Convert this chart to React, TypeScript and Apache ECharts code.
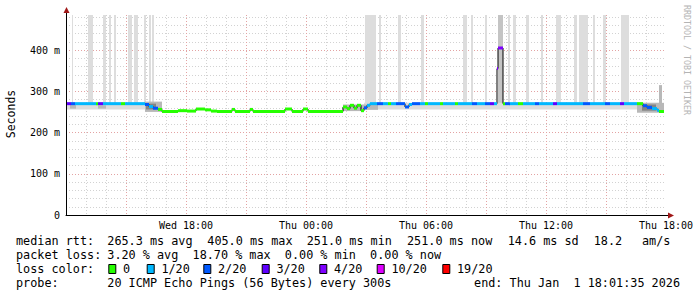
import React, { useEffect, useRef } from 'react';
import * as echarts from 'echarts';

// ---------- data (hours since Wed 12:00) ----------
const xTickHours = [6, 12, 18, 24, 30];
const xTickLabels = ['Wed 18:00', 'Thu 00:00', 'Thu 06:00', 'Thu 12:00', 'Thu 18:00'];
const yMax = 485;

const lossLabels = ['0', '1/20', '2/20', '3/20', '4/20', '10/20', '19/20'];
const lossColors = ['#26ff00', '#00b8ff', '#0059ff', '#5e00ff', '#7e00ff', '#dd00ff', '#ff0000'];

// median rtt steps: start hour, median (ms), loss class index
const stepStart = [
  0.05, 0.25, 0.45, 1.5, 1.6, 1.85, 2.75, 2.95, 3.95, 4.15, 4.35, 4.6, 4.8,
  5.6, 6.05, 6.5, 6.95, 7.25, 7.55, 8.3, 8.45, 9.2, 9.35, 10.95, 11.3, 11.85, 12.1,
  13.85, 14.05, 14.2, 14.4, 14.55, 14.75, 14.9, 15.05, 15.2, 15.55, 15.85, 16.1, 16.25,
  16.5, 16.95, 17.15, 17.3, 17.7, 17.95, 18.1, 18.7, 18.85, 19.45, 19.6, 20.3, 20.55,
  20.95, 21.2, 21.4, 21.55, 21.6, 21.85, 21.95, 22.2, 22.6, 22.85, 23.45, 23.65, 24.35,
  24.55, 25.85, 26.2, 26.95, 27.2, 27.7, 27.9, 28.55, 28.85, 29.05, 29.3, 29.55, 29.65,
];
const stepMedian = [
  270, 270, 270, 270, 270, 270, 270, 270, 268, 263, 259, 256, 251,
  253, 252, 257, 255, 252, 251, 256, 251, 256, 251, 257, 251, 257, 251,
  262, 258, 266, 259, 266, 253, 260, 266, 270, 270, 270, 270, 270,
  270, 262, 268, 270, 270, 270, 270, 270, 270, 270, 270, 270, 270,
  270, 270, 270, 355, 405, 270, 270, 270, 270, 270, 270, 270, 270,
  270, 270, 270, 270, 270, 270, 270, 270, 265, 261, 258, 254, 251,
];
const stepLoss = [
  3, 2, 1, 0, 3, 1, 0, 1, 2, 1, 2, 0, 0,
  0, 0, 0, 0, 0, 0, 0, 0, 0, 0, 0, 0, 0, 0,
  0, 0, 0, 0, 0, 0, 2, 1, 1, 2, 1, 0, 1,
  2, 2, 1, 2, 1, 0, 1, 0, 1, 0, 1, 2, 1,
  2, 3, 1, 4, 4, 0, 2, 1, 0, 1, 2, 1, 3,
  1, 2, 1, 2, 1, 3, 1, 0, 2, 2, 1, 1, 0,
];
const lastHour = 29.9;

// smoke reaching beyond the top of the graph: [start, end]
const tallSmokeStart = [0.3, 1.1, 1.85, 2.15, 2.4, 3.1, 3.4, 3.9, 4.15, 4.3, 14.95, 15.65, 16.6, 17.75, 19.85, 20.25, 20.95, 21.6, 22.1, 22.35, 23.0, 23.75, 24.5, 25.4, 25.65, 26.35, 26.85, 27.75];
const tallSmokeEnd = [0.35, 1.35, 2.0, 2.25, 2.5, 3.3, 3.6, 4.0, 4.25, 4.4, 15.5, 15.75, 16.75, 17.9, 20.05, 20.35, 21.05, 21.85, 22.2, 22.5, 23.15, 23.85, 24.75, 25.55, 26.1, 26.45, 27.0, 28.15];
const tallSmokeLow = [262, 262, 262, 262, 262, 262, 262, 262, 262, 262, 262, 262, 262, 262, 262, 262, 262, 266, 262, 262, 262, 262, 262, 262, 262, 262, 262, 262];
const tallSmokeDensity = [0, 0, 0, 0, 0, 0, 0, 0, 0, 0, 0, 0, 0, 0, 0, 0, 0, 1, 0, 0, 0, 0, 0, 0, 0, 0, 0, 0];

// smoke band around the median: [start, end, low, high, density]
const smokeStart = [0.05, 0.2, 1.6, 3.95, 4.0, 13.85, 14.9, 14.9, 28.55, 28.8, 29.65];
const smokeEnd = [3.95, 0.5, 2.0, 4.8, 4.5, 14.9, 29.65, 15.6, 29.9, 29.5, 29.8];
const smokeLow = [256, 258, 258, 250, 256, 252, 256, 255, 248, 253, 270];
const smokeHigh = [272, 268, 266, 275, 270, 268, 272, 268, 272, 268, 315];
const smokeDensity = [0, 1, 1, 1, 2, 1, 0, 1, 1, 2, 1];

const medianStats = ['265.3 ms avg', '405.0 ms max', '251.0 ms min', '251.0 ms now', '14.6 ms sd', '18.2', 'am/s'];
const lossStats = '3.20 % avg  18.70 % max  0.00 % min  0.00 % now';
const probeText = '20 ICMP Echo Pings (56 Bytes) every 300s';
const endText = 'end: Thu Jan  1 18:01:35 2026';

// ---------- layout ----------
const MONO = '"DejaVu Sans Mono", monospace';
const smokeShades = ['#dcdcdc', '#b8b8b8', '#848484'];
const medianStatX = [107.3, 207.3, 306.7, 407, 507.7, 593.7, 642];
const swatchX = [108.3, 146.7, 203.3, 261.7, 319.3, 376.7, 442.3];
const rowY = [241, 255, 269, 283];

function buildOption() {
  const segs = stepStart.map((s, i) => [s, i + 1 < stepStart.length ? stepStart[i + 1] : lastHour, stepMedian[i], stepLoss[i]]);
  const lineData = stepStart.map((s, i) => [s, stepMedian[i]]);
  lineData.push([lastHour, stepMedian[stepMedian.length - 1]]);
  const tall = tallSmokeStart.map((s, i) => [s, tallSmokeEnd[i], tallSmokeLow[i], yMax, tallSmokeDensity[i]]);
  const bands = smokeStart.map((s, i) => [s, smokeEnd[i], smokeLow[i], smokeHigh[i], smokeDensity[i]]);

  const rectItem = (fillFn: (d: number) => string) => (params: any, api: any) => {
    const p0 = api.coord([api.value(0), api.value(3)]);
    const p1 = api.coord([api.value(1), api.value(2)]);
    return {
      type: 'rect',
      shape: { x: p0[0], y: p0[1], width: Math.max(1, p1[0] - p0[0]), height: p1[1] - p0[1] },
      style: { fill: fillFn(api.value(4)) },
    };
  };

  const txt = (text: string, x: number, y: number, extra: any = {}) => ({
    type: 'text', x, y, silent: true,
    style: { text, font: `11.8px ${MONO}`, fill: '#000', textAlign: 'left', textVerticalAlign: 'middle', ...extra },
  });

  const graphics: any[] = [
    // axis extensions & arrows
    { type: 'line', shape: { x1: 66.5, y1: 15, x2: 66.5, y2: 11 }, style: { stroke: '#000', lineWidth: 1 } },
    { type: 'polygon', shape: { points: [[63.5, 13], [69.5, 13], [66.5, 7]] }, style: { fill: '#a01818' } },
    { type: 'line', shape: { x1: 666, y1: 215.5, x2: 669, y2: 215.5 }, style: { stroke: '#000', lineWidth: 1 } },
    { type: 'polygon', shape: { points: [[668, 212.5], [668, 218.5], [674, 215.5]] }, style: { fill: '#a01818' } },
    // titles
    {
      type: 'text', x: 11, y: 114, rotation: Math.PI / 2, silent: true,
      style: { text: 'Seconds', font: `11.5px ${MONO}`, fill: '#000', textAlign: 'center', textVerticalAlign: 'middle' },
    },
    {
      type: 'text', x: 687, y: 60, rotation: -Math.PI / 2, silent: true,
      style: { text: 'RRDTOOL / TOBI OETIKER', font: `8.3px ${MONO}`, fill: '#b4b4b4', textAlign: 'center', textVerticalAlign: 'middle' },
    },
    txt('median rtt:', 16, rowY[0]),
    ...medianStats.map((s, i) => txt(s, medianStatX[i], rowY[0])),
    txt('packet loss:', 16, rowY[1]),
    txt(lossStats, 107.3, rowY[1]),
    txt('loss color:', 16, rowY[2]),
    ...lossLabels.flatMap((l, i) => [
      { type: 'rect', shape: { x: swatchX[i] + 0.5, y: 264.5, width: 7, height: 9 }, style: { fill: lossColors[i], stroke: '#000', lineWidth: 1 } },
      txt(l, swatchX[i] + 14.7, rowY[2]),
    ]),
    txt('probe:', 16, rowY[3]),
    txt(probeText, 107.3, rowY[3]),
    txt(endText, 680, rowY[3], { textAlign: 'right' }),
  ];

  return {
    animation: false,
    backgroundColor: '#ffffff',
    grid: { left: 66, top: 15, width: 600, height: 200, containLabel: false, outerBoundsMode: 'none' },
    xAxis: {
      type: 'value', min: 0, max: 30, interval: 1,
      axisLine: { show: true, onZero: false, lineStyle: { color: '#000', width: 1 } },
      axisTick: { show: false },
      axisLabel: {
        show: true, margin: 5, color: '#000', fontFamily: MONO, fontSize: 10,
        showMinLabel: true, showMaxLabel: true, hideOverlap: false,
        formatter: (v: number) => {
          const k = xTickHours.indexOf(Math.round(v));
          return Math.abs(v - Math.round(v)) < 1e-6 && k >= 0 ? xTickLabels[k] : '';
        },
      },
      splitLine: { show: true, showMaxLine: false, lineStyle: { color: ['#e3a3a3', '#d2d2d2', '#d2d2d2'], type: [1, 2], width: 1 } },
    },
    yAxis: {
      type: 'value', min: 0, max: yMax, interval: 20,
      axisLine: { show: true, lineStyle: { color: '#000', width: 1 } },
      axisTick: { show: false },
      axisLabel: {
        margin: 6, color: '#000', fontFamily: MONO, fontSize: 10, showMaxLabel: false,
        formatter: (v: number) => (v === 0 ? '0' : v % 100 === 0 ? `${v} m` : ''),
      },
      splitLine: { show: true, showMaxLine: false, lineStyle: { color: ['#e3a3a3', '#d2d2d2', '#d2d2d2', '#d2d2d2', '#d2d2d2'], type: [1, 2], width: 1 } },
    },
    series: [
      { type: 'custom', silent: true, z: 1, renderItem: rectItem((d) => (d ? '#c4c4c4' : '#dddddd')), data: tall, encode: { x: [0, 1], y: [2, 3] }, clip: true },
      { type: 'custom', silent: true, z: 2, renderItem: rectItem((d) => smokeShades[d]), data: bands, encode: { x: [0, 1], y: [2, 3] }, clip: true },
      {
        type: 'line', step: 'end', silent: true, z: 3, symbol: 'none', data: lineData,
        lineStyle: { color: '#000', width: 1 },
      },
      {
        type: 'custom', silent: true, z: 4, data: segs, encode: { x: [0, 1], y: 2 },
        renderItem: (params: any, api: any) => {
          const p0 = api.coord([api.value(0), api.value(2)]);
          const p1 = api.coord([api.value(1), api.value(2)]);
          return {
            type: 'rect',
            shape: { x: p0[0], y: p0[1] - 1.5, width: Math.max(1, p1[0] - p0[0]), height: 3 },
            style: { fill: lossColors[api.value(3)] },
          };
        },
      },
    ],
    graphic: { elements: graphics },
  };
}

export default function App() {
  const ref = useRef<HTMLDivElement>(null);
  useEffect(() => {
    if (!ref.current) return;
    const chart = echarts.init(ref.current, undefined, { renderer: 'svg' });
    chart.setOption(buildOption() as any);
    return () => chart.dispose();
  }, []);
  return <div ref={ref} style={{ position: 'fixed', left: 0, top: 0, width: 697, height: 297, background: '#fff' }} />;
}
